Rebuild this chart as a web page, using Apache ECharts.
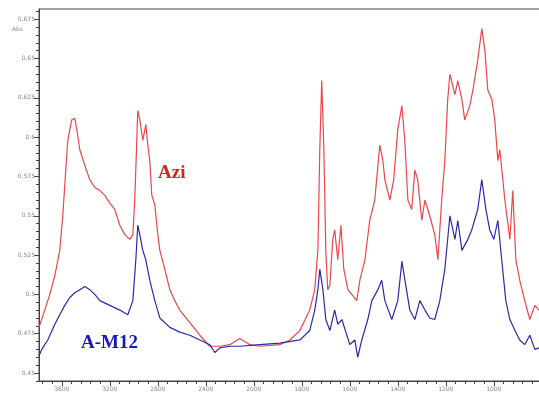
<!DOCTYPE html>
<html>
<head>
<meta charset="utf-8">
<script src="https://cdn.jsdelivr.net/npm/echarts@6/dist/echarts.min.js"></script>
<style>
  html, body { margin: 0; padding: 0; background: #fff; overflow: hidden; }
  #chart { width: 542px; height: 396px; }
</style>
</head>
<body>
<div id="chart"></div>
<script>
// wavenumbers (cm-1) and absorbance
var aziWave = [3790,3742,3700,3658,3617,3592,3567,3550,3533,3517,3492,3475,3450,3408,3367,3325,3283,3242,3200,3158,3117,3075,3033,3008,2992,2975,2967,2950,2925,2900,2883,2867,2850,2825,2800,2783,2742,2700,2658,2617,2533,2450,2367,2283,2200,2117,2033,1975,1892,1850,1808,1767,1746,1733,1725,1717,1708,1700,1692,1683,1671,1663,1650,1637,1625,1608,1592,1571,1558,1537,1517,1496,1475,1462,1454,1433,1417,1400,1383,1371,1358,1342,1329,1317,1300,1287,1267,1246,1233,1217,1204,1192,1183,1162,1150,1133,1121,1100,1087,1067,1050,1037,1025,1008,996,983,975,954,933,921,908,892,871,850,829,812];
var aziAbs = [0.479,0.490,0.500,0.512,0.528,0.550,0.579,0.598,0.605,0.611,0.612,0.605,0.592,0.582,0.573,0.568,0.566,0.563,0.558,0.554,0.544,0.538,0.535,0.538,0.560,0.598,0.617,0.611,0.598,0.608,0.595,0.585,0.563,0.557,0.538,0.528,0.516,0.503,0.496,0.490,0.482,0.474,0.467,0.467,0.468,0.472,0.468,0.467,0.468,0.471,0.477,0.490,0.503,0.528,0.592,0.636,0.592,0.528,0.503,0.506,0.535,0.541,0.522,0.544,0.516,0.503,0.500,0.496,0.509,0.522,0.547,0.560,0.595,0.585,0.573,0.560,0.573,0.605,0.620,0.598,0.560,0.554,0.579,0.573,0.547,0.560,0.550,0.538,0.522,0.560,0.585,0.624,0.640,0.627,0.636,0.624,0.611,0.620,0.630,0.649,0.669,0.655,0.630,0.624,0.611,0.585,0.592,0.560,0.535,0.566,0.522,0.509,0.496,0.484,0.493,0.490];

var am12Wave = [3790,3767,3717,3658,3617,3575,3533,3492,3450,3408,3367,3325,3283,3200,3117,3050,3008,2983,2967,2950,2925,2900,2867,2825,2783,2700,2617,2533,2450,2367,2325,2283,2200,2117,1975,1892,1808,1767,1746,1733,1725,1712,1700,1683,1663,1650,1633,1600,1579,1567,1550,1525,1508,1483,1467,1454,1425,1400,1383,1367,1350,1329,1308,1287,1267,1246,1225,1204,1183,1162,1150,1133,1108,1092,1067,1050,1033,1017,1000,983,967,950,933,912,892,871,850,829,812];
var am12Abs = [0.461,0.465,0.471,0.481,0.487,0.493,0.498,0.501,0.503,0.505,0.503,0.500,0.496,0.493,0.490,0.487,0.496,0.522,0.544,0.538,0.528,0.522,0.509,0.496,0.485,0.479,0.476,0.474,0.471,0.468,0.463,0.466,0.467,0.467,0.468,0.469,0.471,0.477,0.490,0.503,0.516,0.503,0.484,0.477,0.490,0.481,0.484,0.468,0.471,0.460,0.471,0.484,0.496,0.503,0.509,0.496,0.484,0.496,0.521,0.506,0.490,0.484,0.496,0.490,0.485,0.484,0.496,0.516,0.550,0.535,0.547,0.528,0.535,0.541,0.554,0.573,0.554,0.541,0.535,0.547,0.522,0.496,0.484,0.477,0.471,0.468,0.474,0.465,0.466];

var xTickLabels = [3600,3200,2800,2400,2000,1800,1600,1400,1200,1000];
var yTickLabels = [0.45,0.475,0.5,0.525,0.55,0.575,0.6,0.625,0.65,0.675];

// axis runs 400 cm-1 per major step above 2000, 200 per step below
function toAxis(w) {
  return w >= 2000 ? (4000 - w) / 400 : 5 + (2000 - w) / 200;
}

function pairs(wave, abs) {
  var out = [];
  for (var i = 0; i < wave.length; i++) {
    out.push([toAxis(wave[i]), abs[i]]);
  }
  return out;
}

var xMajor = xTickLabels.map(toAxis);
var xMinor = [];
for (var u = 0.6; u < 10.95; u += 0.2) {
  var r = Math.round(u * 10) / 10;
  if (Math.abs(r - Math.round(r)) > 0.01) xMinor.push(r);
}
var yMinor = [];
for (var v = 0.445; v < 0.682; v += 0.005) {
  yMinor.push(Math.round(v * 1000) / 1000);
}

// the chart is 3px wider than the window so the right border is cut off
var gridW = 502, gridH = 372;
var xMin = toAxis(3790), xMax = xMin + gridW / 48;
var yMin = 0.4449, yMax = 0.6815;
var axisCol = '#444';
var clear = 'rgba(0,0,0,0)';
var labelStyle = { color: '#888', fontSize: 6, fontFamily: 'DejaVu Sans' };

var myChart = echarts.init(document.getElementById('chart'));
var option = {
  animation: false,
  grid: { left: 39, right: 1, top: 9, bottom: 15, show: true, borderColor: axisCol, borderWidth: 1, backgroundColor: clear },
  xAxis: [{
    type: 'value', min: xMin, max: xMax, position: 'bottom',
    axisLine: { show: true, onZero: false, lineStyle: { color: axisCol, width: 1 } },
    axisTick: { show: true, length: 5, customValues: xMajor, lineStyle: { color: axisCol } },
    axisLabel: {
      customValues: xMajor, margin: 5, color: labelStyle.color, fontSize: labelStyle.fontSize, fontFamily: labelStyle.fontFamily,
      formatter: function (u) { return u <= 5 ? Math.round(4000 - 400 * u) : Math.round(2000 - 200 * (u - 5)); }
    },
    splitLine: { show: false }
  }, {
    // minor ticks: top axis pushed down onto the bottom edge
    type: 'value', min: xMin, max: xMax, position: 'top', offset: -gridH,
    axisLine: { show: true, onZero: false, lineStyle: { color: clear } },
    axisTick: { show: true, inside: true, length: 3, customValues: xMinor, lineStyle: { color: axisCol } },
    axisLabel: { show: false }, splitLine: { show: false }
  }],
  yAxis: [{
    type: 'value', min: yMin, max: yMax, position: 'left',
    axisLine: { show: true, onZero: false, lineStyle: { color: axisCol, width: 1 } },
    axisTick: { show: true, length: 5, customValues: yTickLabels, lineStyle: { color: axisCol } },
    axisLabel: {
      customValues: yTickLabels, margin: 4, color: labelStyle.color, fontSize: labelStyle.fontSize, fontFamily: labelStyle.fontFamily,
      formatter: function (v) { return String(+v.toFixed(3)); }
    },
    splitLine: { show: false }
  }, {
    // minor ticks: right axis pulled over to the left edge
    type: 'value', min: yMin, max: yMax, position: 'right', offset: -gridW,
    axisLine: { show: true, onZero: false, lineStyle: { color: clear } },
    axisTick: { show: true, inside: true, length: 3, customValues: yMinor, lineStyle: { color: axisCol } },
    axisLabel: { show: false }, splitLine: { show: false }
  }],
  graphic: [
    { type: 'text', left: 12, top: 26, style: { text: 'Abs', fill: '#888', fontSize: 6, fontFamily: 'DejaVu Sans' } },
    { type: 'text', left: 158, top: 164, style: { text: 'Azi', fill: '#d42424', fontSize: 19, fontWeight: 'bold', fontFamily: 'Liberation Serif' } },
    { type: 'text', left: 81, top: 334, style: { text: 'A-M12', fill: '#1818b8', fontSize: 19, fontWeight: 'bold', fontFamily: 'Liberation Serif' } }
  ],
  series: [{
    name: 'Azi', type: 'line', data: pairs(aziWave, aziAbs), xAxisIndex: 0, yAxisIndex: 0,
    showSymbol: false, symbol: 'none',
    lineStyle: { color: '#ec4646', width: 1.2 }
  }, {
    name: 'A-M12', type: 'line', data: pairs(am12Wave, am12Abs), xAxisIndex: 0, yAxisIndex: 0,
    showSymbol: false, symbol: 'none',
    lineStyle: { color: '#2a2aa8', width: 1.2 }
  }]
};
myChart.setOption(option);
window.onresize = myChart.resize;
</script>
</body>
</html>
